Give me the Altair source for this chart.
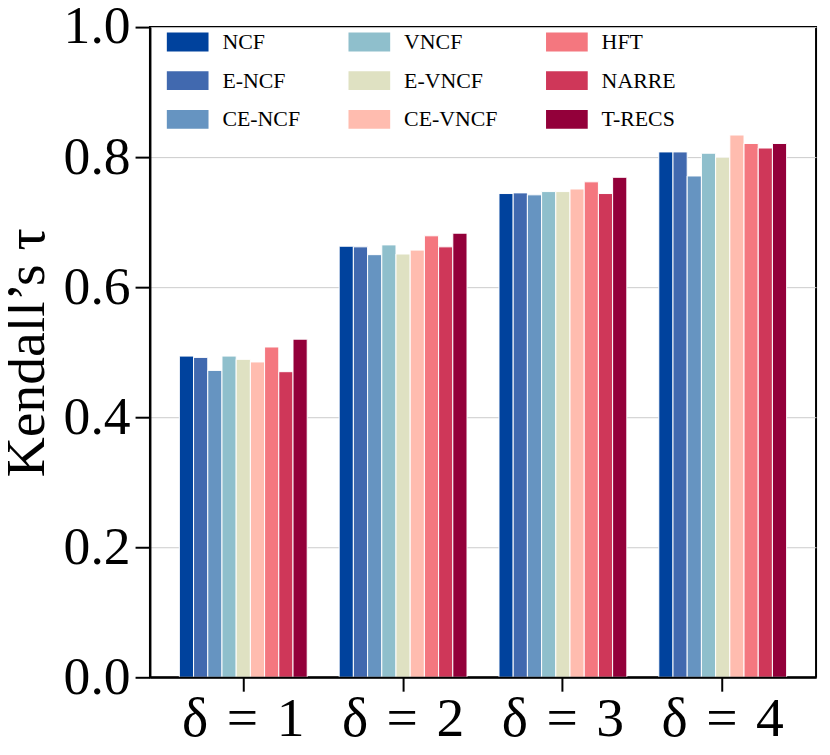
import altair as alt
import pandas as pd

groups = ["δ\u2004=\u20041", "δ\u2004=\u20042", "δ\u2004=\u20043", "δ\u2004=\u20044"]
methods = ["NCF", "E-NCF", "CE-NCF", "VNCF", "E-VNCF", "CE-VNCF", "HFT", "NARRE", "T-RECS"]
colors = ["#00429d", "#4169af", "#6694c1", "#8fbfcc", "#dfe1c2", "#ffbcaf", "#f4777f", "#cf3759", "#93003a"]

ncf = [0.494, 0.663, 0.744, 0.808]
e_ncf = [0.492, 0.662, 0.745, 0.808]
ce_ncf = [0.472, 0.650, 0.742, 0.771]
vncf = [0.494, 0.665, 0.747, 0.806]
e_vncf = [0.489, 0.651, 0.747, 0.800]
ce_vncf = [0.485, 0.657, 0.751, 0.834]
hft = [0.508, 0.679, 0.762, 0.821]
narre = [0.470, 0.662, 0.744, 0.814]
t_recs = [0.520, 0.683, 0.769, 0.821]

series = [ncf, e_ncf, ce_ncf, vncf, e_vncf, ce_vncf, hft, narre, t_recs]

rows = []
for m, vals in zip(methods, series):
    for g, v in zip(groups, vals):
        rows.append({"delta": g, "method": m, "tau": v})
df = pd.DataFrame(rows)

FONT = "Liberation Serif"

chart = alt.Chart(df).mark_bar(stroke="white", strokeWidth=1).encode(
    x=alt.X(
        "delta:N",
        sort=groups,
        scale=alt.Scale(paddingInner=0.2, paddingOuter=0.184),
        axis=alt.Axis(
            title=None, labelAngle=0, labelFont=FONT, labelFontSize=56,
            labelColor="black", tickSize=14, tickWidth=2, tickColor="black",
            domainColor="black", domainWidth=2, labelPadding=1, grid=False,
            zindex=1,
        ),
    ),
    xOffset=alt.XOffset("method:N", sort=methods,
                        scale=alt.Scale(paddingInner=0, paddingOuter=0)),
    y=alt.Y(
        "tau:Q",
        scale=alt.Scale(domain=[0, 1], nice=False),
        axis=alt.Axis(
            title="Kendall’s τ", titleFont=FONT, titleFontSize=56,
            titleFontWeight="normal", titleColor="black", titlePadding=8,
            values=[0, 0.2, 0.4, 0.6, 0.8, 1.0], format=".1f",
            labelFont=FONT, labelFontSize=54, labelColor="black",
            tickSize=15, tickWidth=2, tickColor="black",
            domainColor="black", domainWidth=2, labelPadding=5,
            grid=True, gridColor="#cccccc", gridWidth=1,
        ),
    ),
    color=alt.Color(
        "method:N",
        scale=alt.Scale(domain=methods, range=colors),
        legend=alt.Legend(
            title=None, orient="none", legendX=26, legendY=3, columns=3,
            direction="vertical",
            symbolType="M-1.75,-0.79H1.75V0.79H-1.75Z", symbolSize=576,
            symbolStrokeWidth=0, symbolOpacity=1, labelOffset=23,
            columnPadding=48, rowPadding=16, labelFont=FONT,
            labelFontSize=22, labelColor="black", padding=0,
        ),
    ),
).properties(
    width=671,
    height=655,
    autosize=alt.AutoSizeParams(type="none"),
    padding={"left": 143, "top": 16.5, "right": 6, "bottom": 68},
).configure_view(stroke="black", strokeWidth=2)

chart.save("out.html", embed_options={"renderer": "svg", "actions": False})
